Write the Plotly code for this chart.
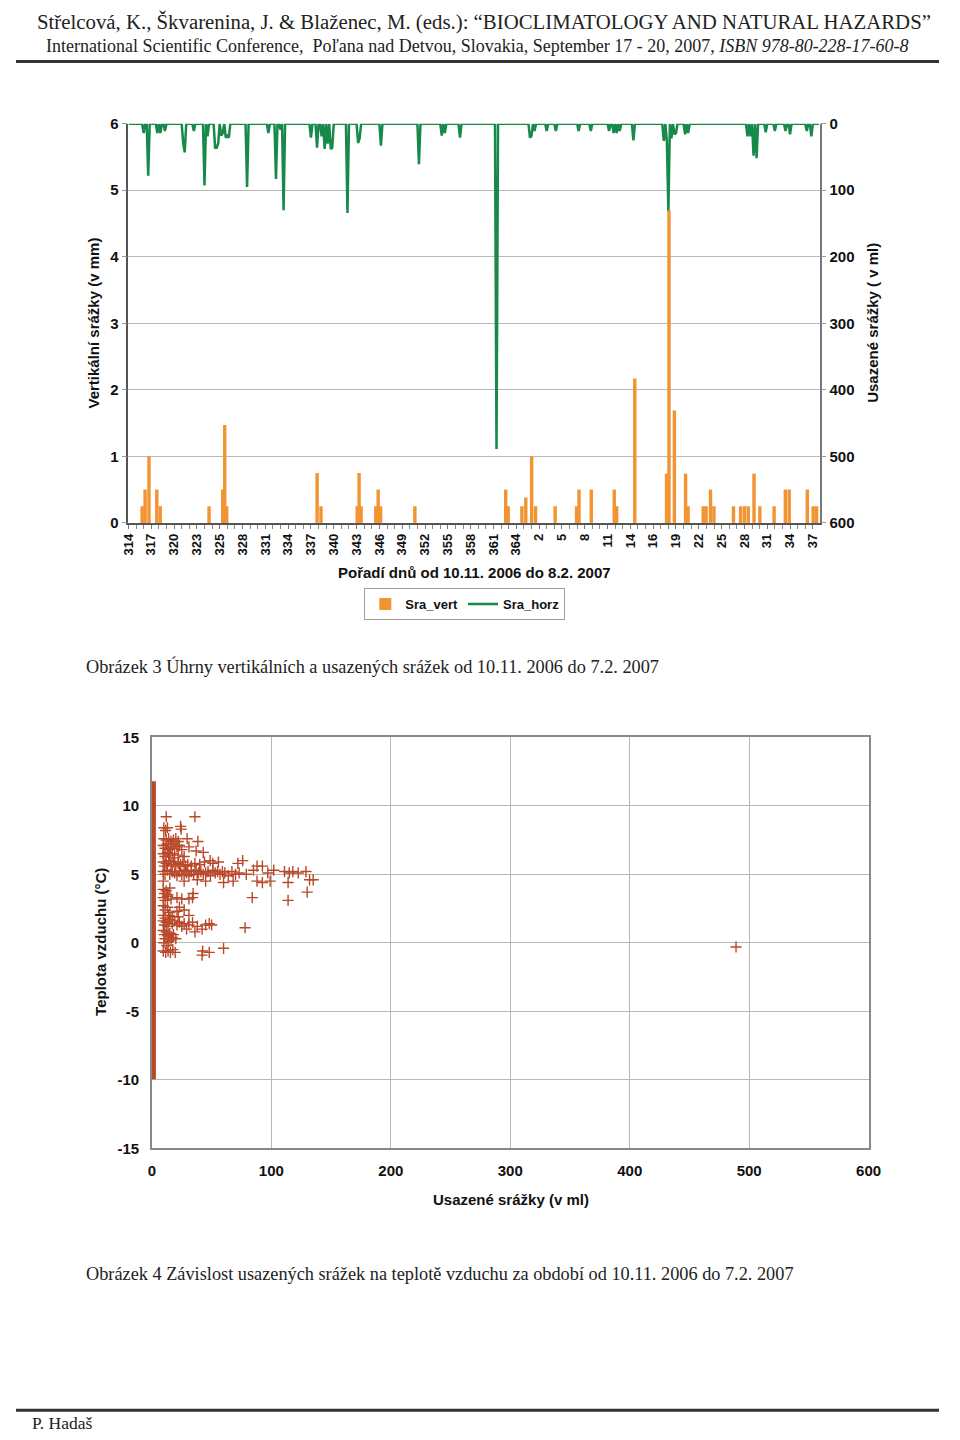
import numpy as np
import plotly.graph_objects as go

# page is 960x1440; the browser body keeps an 8 px margin around the figure
PAGE_W, PAGE_H, OFF = 960, 1440, 8
W, H = PAGE_W - 2 * OFF, PAGE_H - 2 * OFF

# ---------------- Chart 1 data ----------------
day_labels = ["314", "317", "320", "323", "325", "328", "331", "334", "337", "340",
              "343", "346", "349", "352", "355", "358", "361", "364", "2", "5",
              "8", "11", "14", "16", "19", "22", "25", "28", "31", "34", "37"]

# vertical precipitation (mm): position on the day axis (tick units), value
vert_pos = [1.80, 2.19, 2.70, 3.73, 4.18, 10.60, 12.40, 12.66, 12.92,
            24.81, 25.32, 30.08, 30.33, 30.59, 32.52, 32.84, 33.16, 37.66,
            49.61, 49.94, 51.74, 52.25, 53.02, 53.53, 56.11, 58.93, 59.25,
            60.86, 63.88, 64.20, 66.58, 70.76, 71.08, 71.79, 73.26, 73.59,
            75.58, 75.96, 76.54, 76.99, 79.56, 80.50, 81.00, 81.50, 82.26,
            83.03, 84.90, 86.38, 86.89, 89.27, 90.04, 90.49]
vert_mm = [0.25, 0.5, 1.0, 0.5, 0.25, 0.25, 0.5, 1.47, 0.25,
           0.75, 0.25, 0.25, 0.75, 0.25, 0.25, 0.5, 0.25, 0.25,
           0.5, 0.25, 0.25, 0.38, 1.0, 0.25, 0.25, 0.25, 0.5,
           0.5, 0.5, 0.25, 2.17, 0.74, 4.7, 1.69, 0.74, 0.25,
           0.25, 0.25, 0.5, 0.25, 0.25, 0.25, 0.25, 0.25, 0.74,
           0.25, 0.25, 0.5, 0.5, 0.5, 0.25, 0.25]

# settled (horizontal) precipitation (ml): position, value
horz_pos = [1.99, 2.53, 3.73, 4.11, 4.85, 7.20, 7.39, 8.61, 10.03, 10.35,
            11.31, 11.57, 11.83, 12.15, 12.47, 12.72, 12.98, 13.24, 15.55,
            18.38, 19.47, 19.99, 20.50, 24.04, 24.81, 25.32, 25.90, 26.22,
            26.54, 26.86, 28.70, 30.14, 30.46, 33.25, 38.11, 38.30, 41.20,
            41.65, 43.70, 48.33, 52.76, 52.96, 53.41, 55.01, 56.30, 59.13,
            60.80, 63.11, 63.75, 64.14, 64.52, 66.45, 70.50, 70.82, 71.08,
            71.34, 71.72, 72.04, 73.14, 73.52, 81.49, 81.81, 82.13, 82.65,
            83.80, 84.96, 86.50, 87.02, 89.20, 89.72]
horz_ml = [14, 78, 14, 14, 11, 29, 43, 11, 93, 19,
           36, 36, 30, 18, 14, 21, 18, 21, 95,
           14, 83, 9, 130, 21, 36, 19, 38, 30,
           38, 36, 134, 29, 22, 33, 61, 30, 18,
           14, 21, 489, 21, 18, 11, 11, 11, 11,
           11, 11, 14, 14, 11, 25, 26, 26, 132,
           22, 16, 14, 16, 14, 19, 19, 48, 52,
           13, 11, 11, 16, 11, 19]

# ---------------- Chart 2 data ----------------
settled_ml = [12, 36,
              10, 13, 11.5, 24, 24.5,
              10, 12, 14, 16, 18, 20, 22, 29.5, 38.5,
              9.5, 11, 12.5, 14, 15.5, 17, 19, 21, 23, 25, 31, 37, 43,
              9.5, 11, 13, 15, 17, 19, 22, 27,
              9.5, 10.5, 12, 14, 16, 18, 20, 22, 24, 26, 28, 30, 33, 36, 40, 44, 48.8, 51, 55.7, 72, 76,
              9.5, 11, 13, 15, 17, 19, 21, 23, 25, 27, 29, 31, 33, 35, 37, 39, 41, 43, 45, 47, 49,
              51, 53, 55, 57, 59, 61, 64, 67, 70, 73, 79, 85, 88, 92.5, 97, 102, 111, 115, 118, 122.5, 129,
              9.5, 27, 38, 45, 60, 68, 88, 92.5, 99, 114, 132, 135,
              9.5, 10.5, 12, 13.5, 15, 130,
              9.5, 11, 13, 16, 21, 25, 31, 34, 34.5, 84, 114,
              9.5, 11, 13, 15, 21, 23, 27,
              9.5, 11, 14, 17, 22, 31,
              9.5, 10.5, 12, 13.5, 15, 17, 19, 21, 23, 25, 27, 29, 31, 34, 36, 38, 42, 45, 48, 50, 78,
              9.5, 10.5, 12, 13.5, 15, 17, 11, 14, 16, 18, 10, 12.5, 20,
              9.5, 11.5, 13.5, 15.5, 17.5, 19.5, 42, 42.5, 48, 60,
              489]
air_temp = [9.2, 9.2,
            8.4, 8.4, 8.2, 8.5, 8.3,
            7.6, 7.5, 7.6, 7.4, 7.5, 7.6, 7.4, 7.6, 7.4,
            7.1, 6.9, 7.2, 6.8, 7.0, 7.2, 6.9, 7.0, 7.1, 6.8, 7.0, 6.7, 6.6,
            6.5, 6.3, 6.6, 6.4, 6.5, 6.2, 6.4, 6.3,
            5.9, 5.6, 5.8, 6.0, 5.7, 5.9, 5.6, 5.8, 5.7, 5.9, 5.6, 5.7, 5.6, 5.8, 5.7, 5.9, 6.0, 5.8, 5.9, 5.8, 6.0,
            5.2, 5.0, 5.3, 5.0, 5.2, 5.1, 4.9, 5.2, 5.0, 5.3, 5.1, 4.9, 5.2, 5.0, 5.3, 5.1, 5.2, 5.0, 5.1, 5.2, 4.9,
            5.3, 5.1, 5.2, 5.0, 5.2, 5.1, 4.9, 5.2, 5.0, 5.1, 5.0, 5.3, 5.6, 5.6, 5.1, 5.3, 5.2, 5.1, 5.2, 5.1, 5.2,
            4.5, 4.5, 4.6, 4.5, 4.4, 4.5, 4.5, 4.4, 4.5, 4.4, 4.6, 4.6,
            3.9, 3.6, 3.8, 3.5, 4.0, 3.7,
            3.3, 3.1, 3.4, 3.2, 3.3, 3.2, 3.2, 3.3, 3.6, 3.3, 3.1,
            2.7, 2.4, 2.6, 2.2, 2.3, 2.6, 2.4,
            2.0, 1.8, 2.0, 1.9, 1.9, 2.0,
            1.6, 1.3, 1.5, 1.2, 1.7, 1.4, 1.6, 1.3, 1.5, 1.2, 1.4, 1.0, 1.3, 1.5, 0.8, 1.2, 1.0, 1.3, 1.4, 1.3, 1.1,
            0.9, 0.6, 0.8, 0.5, 0.7, 0.4, 0.3, 0.1, 0.2, 0.6, 0.0, -0.2, 0.3,
            -0.6, -0.7, -0.6, -0.7, -0.5, -0.7, -0.9, -0.6, -0.7, -0.4,
            -0.3]
# temperatures recorded with zero settled precipitation span this range
zero_temp_range = [-9.95, 11.8]
temp_ticks = [-15, -10, -5, 0, 5, 10, 15]

# ---------------- styles ----------------
ORANGE = "#F39433"
GREEN = "#17894A"
RUST = "#B9482A"
SANS = "Liberation Sans, Arial, sans-serif"
SERIF = "Liberation Serif, Times New Roman, serif"
GRID = "#B8B8B8"


def fx(px):
    return (px - OFF) / W


def fy(py):
    return 1 - (py - OFF) / H


# build settled precip line on a fine grid of the day axis
X_MAX = 90.9
step = 0.2
grid = np.round(np.arange(0, X_MAX + 1e-9, step), 3)
line_vals = np.zeros_like(grid)
for p, v in zip(horz_pos, horz_ml):
    i = int(round(p / step))
    line_vals[i] = max(line_vals[i], v)

fig = go.Figure()
fig.add_trace(go.Scatter(x=grid, y=line_vals, mode="lines", name="Sra_horz",
                         line=dict(color=GREEN, width=2.5),
                         xaxis="x", yaxis="y", legendrank=2))
fig.add_trace(go.Bar(x=vert_pos, y=vert_mm, width=0.45, name="Sra_vert",
                     marker=dict(color=ORANGE, line=dict(width=0)),
                     xaxis="x", yaxis="y2", legendrank=1))
# dense column of observations with zero settled precipitation
fig.add_trace(go.Scatter(x=[0], y=[zero_temp_range[0]], mode="markers",
                         marker=dict(size=1, opacity=0),
                         error_y=dict(type="data", symmetric=False,
                                      array=[zero_temp_range[1] - zero_temp_range[0]],
                                      arrayminus=[0], thickness=8, width=0, color=RUST),
                         cliponaxis=False, showlegend=False, hoverinfo="skip",
                         xaxis="x2", yaxis="y3"))
fig.add_trace(go.Scatter(x=settled_ml, y=air_temp, mode="markers",
                         marker=dict(symbol="cross-thin", size=8,
                                     line=dict(width=1.4, color=RUST)),
                         cliponaxis=False, showlegend=False,
                         xaxis="x2", yaxis="y3"))

tick_b15 = dict(family=SANS, size=15, color="#111", weight="bold")

fig.update_layout(
    width=W, height=H,
    margin=dict(l=0, r=0, t=0, b=0),
    paper_bgcolor="white", plot_bgcolor="white",
    barmode="overlay",
    showlegend=True,
    legend=dict(orientation="h", x=fx(467), xanchor="center", y=fy(586), yanchor="top",
                bordercolor="#A0A0A0", borderwidth=1, itemwidth=30,
                font=dict(family=SANS, size=13, color="#111", weight="bold"),
                tracegroupgap=0),
    xaxis=dict(domain=[fx(123), fx(830)], anchor="y", range=[0, X_MAX],
               tickmode="array", tickvals=[3 * i for i in range(len(day_labels))],
               ticktext=day_labels, tickangle=-90,
               tickfont=dict(family=SANS, size=13, color="#111", weight="bold"),
               ticks="outside", ticklen=4, tickcolor="#777",
               minor=dict(tickmode="linear", tick0=0, dtick=1, ticks="outside",
                          ticklen=4, tickcolor="#888"),
               showline=True, linecolor="#555", linewidth=1.5,
               showgrid=False, zeroline=False),
    yaxis=dict(domain=[fy(520), fy(116)], anchor="x", side="right",
               range=[600, 0], tickmode="array", tickvals=[0, 100, 200, 300, 400, 500, 600],
               tickfont=tick_b15, ticks="outside", ticklen=5, tickcolor="#999",
               showgrid=True, gridcolor=GRID, gridwidth=1,
               showline=True, linecolor="#777", linewidth=1.5, zeroline=False),
    yaxis2=dict(overlaying="y", anchor="x", side="left", range=[0, 6],
                tickmode="linear", tick0=0, dtick=1,
                tickfont=tick_b15, ticks="outside", ticklen=5, tickcolor="#999",
                showgrid=False, showline=True, linecolor="#555", linewidth=1.5,
                zeroline=False),
    xaxis2=dict(domain=[fx(147), fx(880)], anchor="y3", range=[0, 600],
                tickmode="linear", tick0=0, dtick=100, tickfont=tick_b15,
                ticklabelstandoff=8,
                showgrid=True, gridcolor=GRID, gridwidth=1,
                showline=True, mirror=True, linecolor="#888", linewidth=1.5,
                zeroline=False),
    yaxis3=dict(domain=[fy(1153), fy(737)], anchor="x2", range=[-15, 15],
                tickmode="array", tickvals=temp_ticks,
                ticktext=[str(t) for t in temp_ticks], tickfont=tick_b15,
                ticklabelstandoff=8,
                showgrid=True, gridcolor=GRID, gridwidth=1,
                showline=True, mirror=True, linecolor="#888", linewidth=1.5,
                zeroline=False),
)

ann = []


def text(x, y, s, size, family=SANS, bold=False, angle=0, xanchor="center", color="#111"):
    ann.append(dict(x=fx(x), y=fy(y), xref="paper", yref="paper", text=s,
                    showarrow=False, xanchor=xanchor, yanchor="middle",
                    textangle=angle,
                    font=dict(family=family, size=size, color=color,
                              weight="bold" if bold else "normal")))


# page header / footer
text(487, 13, "Střelcová, K., Škvarenina, J. &amp; Blaženec, M. (eds.): “BIOCLIMATOLOGY AND NATURAL HAZARDS”",
     20.8, family=SERIF, color="#222")
text(480, 37, "International Scientific Conference,  Poľana nad Detvou, Slovakia, September 17 - 20, 2007, <i>ISBN 978-80-228-17-60-8</i>",
     18, family=SERIF, color="#222")
text(22, 1431, "P. Hadaš", 17.5, family=SERIF, xanchor="left", color="#222")

# chart 1 titles
text(87, 318, "Vertikální srážky (v mm)", 15, bold=True, angle=-90)
text(884, 318, "Usazené srážky ( v ml)", 15, bold=True, angle=-90)
text(477, 570, "Pořadí dnů od 10.11. 2006 do 8.2. 2007", 15, bold=True)
text(78, 665, "Obrázek 3 Úhrny vertikálních a usazených srážek od 10.11. 2006 do 7.2. 2007",
     18.3, family=SERIF, xanchor="left", color="#222")

# chart 2 titles
text(95, 944, "Teplota vzduchu (°C)", 15, bold=True, angle=-90)
text(514, 1205, "Usazené srážky (v ml)", 15, bold=True)
text(78, 1280, "Obrázek 4 Závislost usazených srážek na teplotě vzduchu za období od 10.11. 2006 do 7.2. 2007",
     18.3, family=SERIF, xanchor="left", color="#222")

fig.update_layout(annotations=ann)

fig.update_layout(shapes=[
    dict(type="line", xref="paper", yref="paper", x0=0, x1=1, y0=fy(53), y1=fy(53),
         line=dict(color="#333", width=3)),
    dict(type="line", xref="paper", yref="paper", x0=0, x1=1, y0=fy(1418), y1=fy(1418),
         line=dict(color="#333", width=3)),
])

fig.write_html("out.html", config={"displayModeBar": False})
